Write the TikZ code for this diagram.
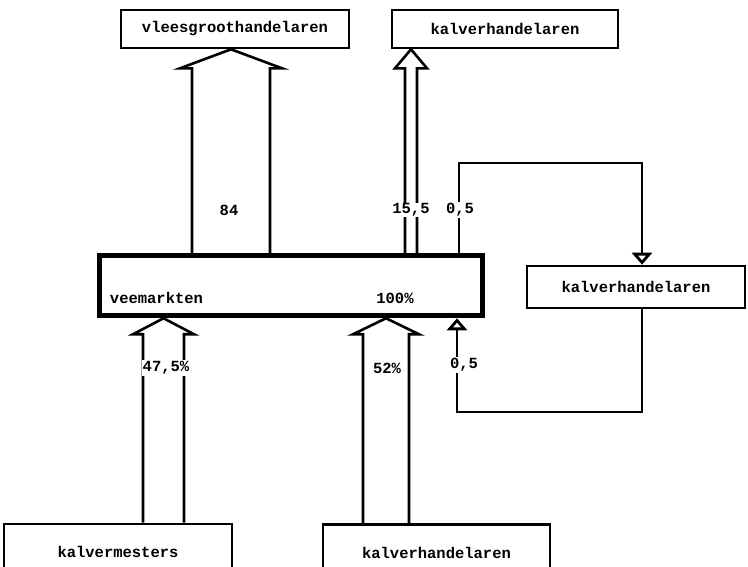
\documentclass[tikz,border=0pt]{standalone}
\usepackage{fontspec}
\setmonofont{Liberation Mono}
\usetikzlibrary{calc,arrows.meta}

% open double-line flow arrow: from, to, left x, right x, wing, head length
\newcommand\hollowarrow[6]{%
  \draw[shaft] (#3,0 |- #1.north) -- ($(#3,0 |- #2.south)+(0,#6)$) -- ++(-#5,0)
    -- ({(#3+#4)/2},0 |- #2.south) -- ($(#4,0 |- #2.south)+(#5,#6)$) -- ++(-#5,0)
    -- (#4,0 |- #1.north);}

\begin{document}
\begin{tikzpicture}[x=1pt,y=-1pt]
        \tikzstyle{every node}=[font=\ttfamily\bfseries\fontsize{15.5}{18}\selectfont, inner sep=1pt]
        \tikzstyle{box}=[draw, line width=2.6pt, minimum height=38pt]
        \tikzstyle{shaft}=[line width=2.6pt, line join=miter]
        \tikzstyle{loop}=[line width=2.6pt, -{Triangle[open,width=20pt,length=12pt,line width=2.8pt]}]
        \tikzstyle{num}=[fill=white]
        \useasboundingbox (0,0) rectangle (748,566);
        % boxes
        \node[box, minimum width=228pt] (vlees) at (235,29) {vleesgroothandelaren};
        \node[box, minimum width=226pt] (handtop) at (505,29) {kalverhandelaren};
        \node[box, line width=5.5pt, minimum width=383pt, minimum height=60pt] (markt) at (291,285.5) {};
        \node[anchor=west] (marktname) at ($(markt.west)+(12,12.5)$) {veemarkten};
        \node (marktpct) at ($(markt.center)+(104,12.5)$) {100\%};
        \node[box, minimum width=218pt, minimum height=42pt] (handright) at (636,287) {kalverhandelaren};
        \node[box, minimum width=228pt, minimum height=56pt] (mesters) at (118,552) {kalvermesters};
        \node[box, minimum width=227pt, minimum height=56pt] (handlow) at (436.5,552.5) {kalverhandelaren};
        % flows
        \hollowarrow{markt}{vlees}{192}{270}{12}{19}
        \hollowarrow{markt}{handtop}{405}{417}{10}{19}
        \hollowarrow{mesters}{markt}{143}{184}{10}{16}
        \hollowarrow{handlow}{markt}{363}{409}{10}{16}
        \coordinate (turnup) at (642,163);
        \coordinate (turndown) at (457,412);
        \draw[loop] (markt.north -| 459,0) |- (turnup) -- (turnup |- handright.north);
        \draw[loop] (handright.south -| turnup) |- (turndown) -- (turndown |- markt.south);
        % figures
        \node (n84) at (229,210) {84};
        \node[num] (n155) at (411,210) {15,5};
        \node[num] (n05a) at (460,210) {0,5};
        \node[num] (n05b) at (464,365) {0,5};
        \node[num] (n475) at (166,368) {47,5\%};
        \node (n52) at (387,368) {52\%};
\end{tikzpicture}
\end{document}
